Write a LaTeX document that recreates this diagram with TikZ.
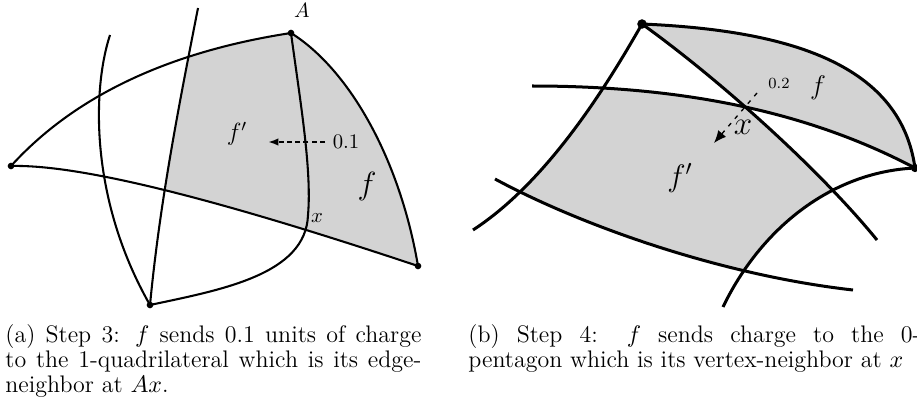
\RequirePackage{fix-cm}
\documentclass[tikz,border=0pt]{standalone}
\usetikzlibrary{arrows.meta}
\newlength\pxu
\setlength\pxu{0.483pt}
\definecolor{facegray}{RGB}{211,211,211}
\tikzset{
  edgeL/.style={line width=1pt},
  edgeR/.style={line width=1.45pt},
  lbl/.style={inner sep=0pt},
  capline/.style={anchor=base west, inner sep=0pt, font=\fontsize{11.57}{13.9}\selectfont},
  chargeL/.style={line width=1pt, dash pattern=on 2.4pt off 1.6pt, -{Latex[length=5pt,width=3.6pt]}},
  chargeR/.style={line width=0.65pt, dash pattern=on 2pt off 2.8pt, -{Latex[length=6pt,width=5pt]}},
}
\begin{document}
\begin{tikzpicture}[x=0.483pt,y=-0.483pt]
\useasboundingbox (0,0) rectangle (917,410);
\clip (0,0) rectangle (917,410);

% ---------------- left figure ----------------
\coordinate (L) at (11,166);
\coordinate (A) at (291,33);
\coordinate (B) at (150,305);
\coordinate (R) at (418,266);
\coordinate (P5) at (198,8);
\coordinate (P4) at (110,35);
\coordinate (Q6) at (308,215);

\begin{scope}
  \clip (P5) .. controls (180,100) and (160,200) .. (B) -- (150,420) -- (460,420) -- (460,-10) -- (198,-10) -- cycle;
  \fill[facegray] (L) .. controls (80,90) and (180,50) .. (A) .. controls (350,70) and (400,160) .. (R) .. controls (250,210) and (90,164) .. (L) -- cycle;
\end{scope}

\draw[edgeL] (L) .. controls (80,90) and (180,50) .. (A);
\draw[edgeL] (L) .. controls (90,164) and (250,210) .. (R);
\draw[edgeL] (A) .. controls (350,70) and (400,160) .. (R);
\draw[edgeL] (P4) .. controls (92,90) and (90,200) .. (B);
\draw[edgeL] (P5) .. controls (180,100) and (160,200) .. (B);
\draw[edgeL] (A) .. controls (300,100) and (312,170) .. (Q6) .. controls (306,275) and (220,290) .. (B);

\foreach \v in {L,A,B,R} \fill (\v) circle (1.6pt);

\node[lbl] (lA) at (302,10) {$A$};
\node[lbl,font=\large] (lfp) at (237,134) {$f'$};
\node[lbl,font=\fontsize{15.5}{18}\selectfont] (lf) at (367,186) {$f$};
\node[lbl] (l01) at (346,142) {0.1};
\node[lbl] (lx) at (317,218) {$x$};
\coordinate (a1s) at (325,142);
\coordinate (a1e) at (268,142);
\draw[chargeL] (a1s) -- (a1e);

% ---------------- right figure ----------------
\coordinate (T) at (642,24);
\coordinate (V) at (915,168);
\coordinate (E2) at (473,230);
\coordinate (E3) at (877,240);
\coordinate (S4) at (532,86);
\coordinate (S5) at (495,179);
\coordinate (E5) at (853,290);
\coordinate (E6) at (723,307);

% face f
\begin{scope}
  \clip (T) .. controls (720,80) and (820,170) .. (E3) -- (930,240) -- (930,-10) -- (642,-10) -- cycle;
  \fill[facegray] (T) .. controls (780,30) and (900,60) .. (V) .. controls (820,118) and (700,86) .. (S4) -- cycle;
\end{scope}
% face f'
\begin{scope}
  \clip (S4) .. controls (700,86) and (820,118) .. (V) -- (930,168) -- (930,420) -- (460,420) -- (460,86) -- cycle;
  \clip (T) .. controls (610,80) and (550,180) .. (E2) -- (473,420) -- (930,420) -- (930,-10) -- (642,-10) -- cycle;
  \clip (S5) .. controls (580,225) and (720,275) .. (E5) -- (930,290) -- (930,-10) -- (460,-10) -- (460,179) -- cycle;
  \clip (T) .. controls (720,80) and (820,170) .. (E3) -- (877,420) -- (460,420) -- (460,-10) -- (642,-10) -- cycle;
  \clip (V) .. controls (830,172) and (760,230) .. (E6) -- (460,307) -- (460,-10) -- (930,-10) -- (930,168) -- cycle;
  \fill[facegray] (460,0) rectangle (917,410);
\end{scope}

\draw[edgeR] (T) .. controls (780,30) and (900,60) .. (V);
\draw[edgeR] (T) .. controls (610,80) and (550,180) .. (E2);
\draw[edgeR] (T) .. controls (720,80) and (820,170) .. (E3);
\draw[edgeR] (S4) .. controls (700,86) and (820,118) .. (V);
\draw[edgeR] (S5) .. controls (580,225) and (720,275) .. (E5);
\draw[edgeR] (V) .. controls (830,172) and (760,230) .. (E6);

\fill (T) circle (2.3pt);
\fill (V) circle (2pt);

\node[lbl,font=\fontsize{13}{15}\selectfont] (rf) at (818,88) {$f$};
\node[lbl,font=\fontsize{7.5}{9}\selectfont] (r02) at (779,84) {0.2};
\node[lbl,font=\fontsize{16}{19}\selectfont] (rx) at (743,127) {$x$};
\node[lbl,font=\fontsize{15}{18}\selectfont] (rfp) at (680,178) {$f'$};
\coordinate (a2s) at (757,93);
\coordinate (a2e) at (714,143);
\draw[chargeR] (a2s) -- (a2e);

% ---------------- captions ----------------
\node[capline] (ca1) at (5,342) {\makebox[416\pxu][s]{(a) Step 3: $f$ sends 0.1 units of charge}};
\node[capline] (ca2) at (5,367) {\makebox[416\pxu][s]{to the 1-quadrilateral which is its edge-}};
\node[capline] (ca3) at (5,392) {neighbor at $Ax$.};
\node[capline] (cb1) at (468,342) {\makebox[452\pxu][s]{(b) Step 4: $f$ sends charge to the 0-}};
\node[capline] (cb2) at (468,367) {pentagon which is its vertex-neighbor at $x$};
\end{tikzpicture}
\end{document}
